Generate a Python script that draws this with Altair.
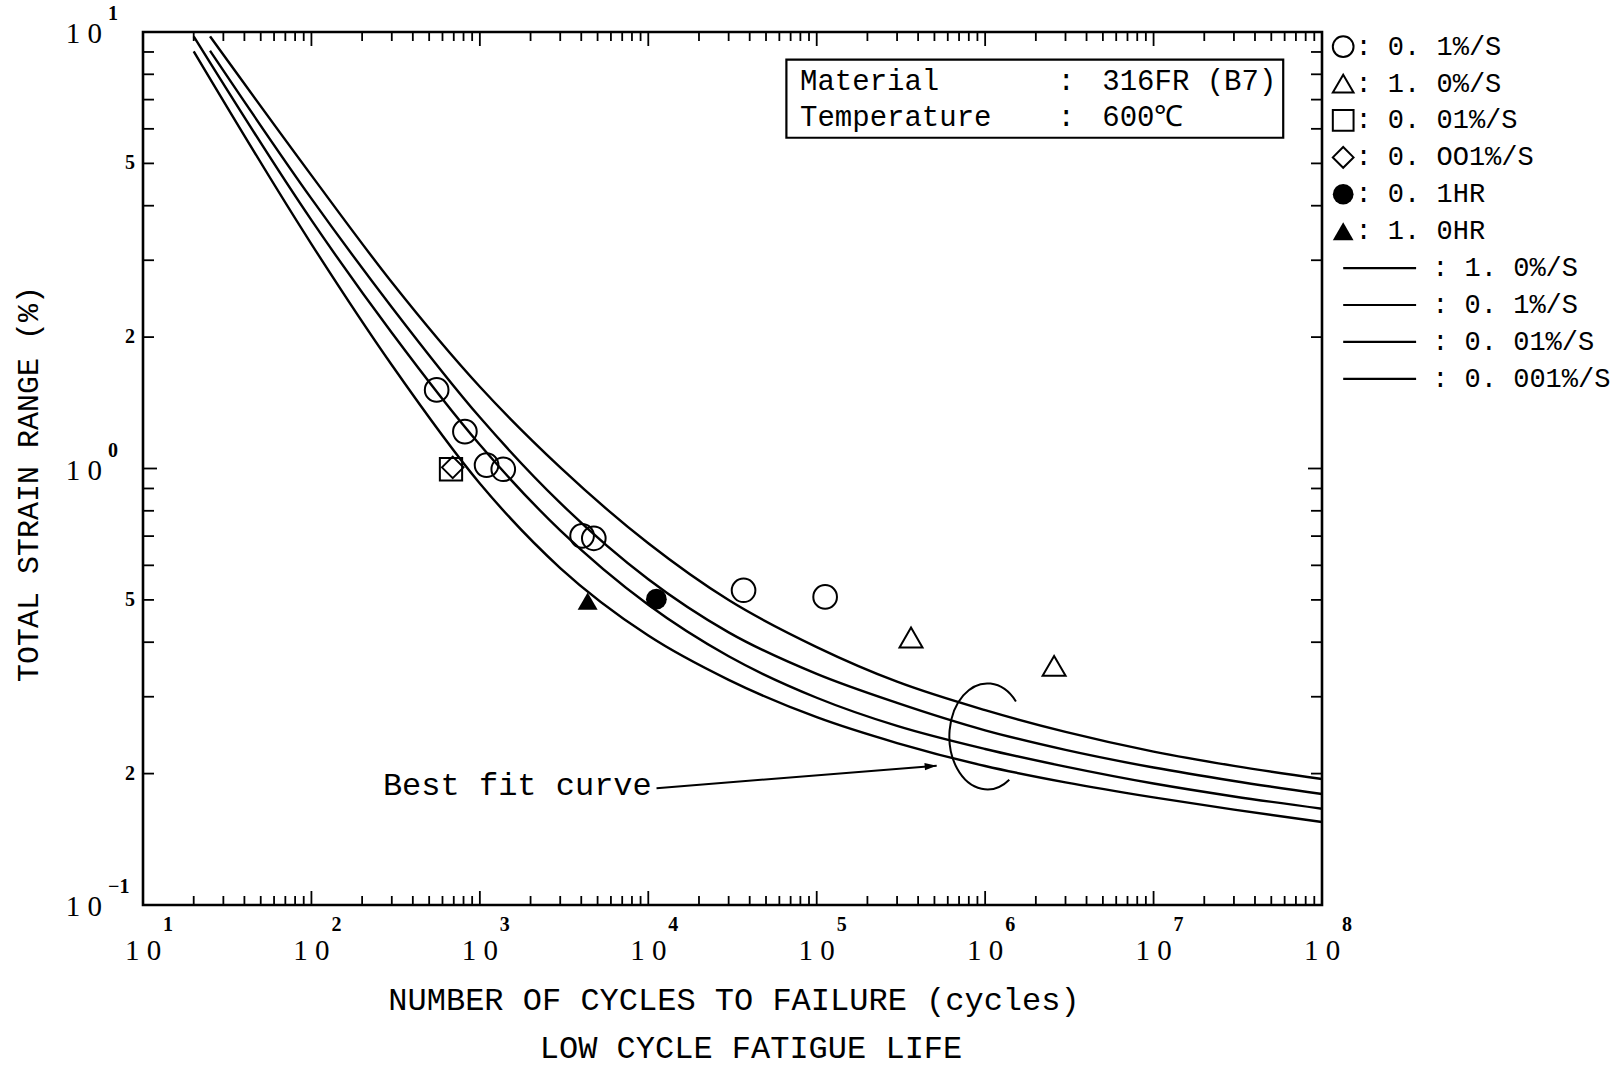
import altair as alt
import pandas as pd

W, H = 1179, 873

# ---------------- best-fit curves (cycles, total strain range %) ----------------
curve_names = ["1.0%/S", "0.1%/S", "0.01%/S", "0.001%/S"]
N_upper = [25, 100, 300, 1000, 3000, 1e4, 3e4, 1e5, 3e5, 1e6, 3e6, 1e7, 3e7, 1e8]
N_lower = [20, 100, 300, 1000, 3000, 1e4, 3e4, 1e5, 3e5, 1e6, 3e6, 1e7, 3e7, 1e8]
S_rate_1 = [9.77, 4.694, 2.671, 1.539, 1.006, 0.674, 0.4995, 0.3899, 0.3248, 0.2795, 0.2492, 0.2246, 0.2083, 0.1944]
S_rate_01 = [9.06, 4.153, 2.342, 1.310, 0.834, 0.5575, 0.4213, 0.3384, 0.2904, 0.2513, 0.2266, 0.2065, 0.1924, 0.1796]
S_rate_001 = [9.77, 3.706, 2.046, 1.133, 0.7214, 0.4872, 0.3713, 0.2984, 0.2572, 0.2277, 0.2075, 0.1898, 0.1773, 0.1662]
S_rate_0001 = [9.03, 3.267, 1.726, 0.9239, 0.5916, 0.4143, 0.328, 0.2693, 0.235, 0.2082, 0.191, 0.1764, 0.1654, 0.1549]

# ---------------- test data ----------------
circ_N = [554, 815, 1096, 1377, 4046, 4748, 36780, 112200]
circ_S = [1.514, 1.215, 1.018, 0.996, 0.701, 0.692, 0.526, 0.508]
tri_N = [363000, 2567000]
tri_S = [0.410, 0.353]
sq_N = [674]
sq_S = [0.996]
dia_N = [690]
dia_S = [1.006]
fcirc_N = [11170]
fcirc_S = [0.502]
ftri_N = [4365]
ftri_S = [0.497]

series_names = ["0.1%/S", "1.0%/S", "0.01%/S", "0.001%/S", "0.1HR", "1.0HR"]
series_shapes = ["circle", "triangle-up", "square", "diamond", "circle", "triangle-up"]
series_sizes = [560, 400, 441, 150, 380, 440]
open_series = series_names[:4]
filled_series = series_names[4:]

# ---------------- legend ----------------
legend_point_labels = [": 0. 1%/S", ": 1. 0%/S", ": 0. 01%/S", ": 0. OO1%/S", ": 0. 1HR", ": 1. 0HR"]
legend_line_labels = [": 1. 0%/S", ": 0. 1%/S", ": 0. 01%/S", ": 0. 001%/S"]
legend_row_S = [9.254, 7.616, 6.270, 5.161, 4.249, 3.497, 2.878, 2.369, 1.950, 1.605]
legend_symbol_N = 1.336e8
legend_text_N = 1.58e8
legend_line_N = [1.336e8, 3.62e8]
legend_line_text_N = 4.51e8

# ---------------- annotation box / labels ----------------
box_N = [66070, 5.885e7]
box_S = [8.64, 5.725]
box_keys = ["Material", "Temperature"]
box_values = ["316FR (B7)", "600℃"]
box_text_S = [7.73, 6.397]
box_key_N = 79600
box_colon_N = 3.033e6
box_value_N = 4.96e6

best_fit_label = "Best fit curve"
best_fit_N = 265.7
best_fit_S = 0.1886
arrow_N = [11190, 515500]
arrow_S = [0.1852, 0.2085]
ellipse_N = 1.03e6
ellipse_S = 0.2429

# ---------------- axes ----------------
x_decades = [10, 100, 1000, 1e4, 1e5, 1e6, 1e7, 1e8]
x_exponents = ["1", "2", "3", "4", "5", "6", "7", "8"]
minor_mult = [2, 3, 4, 5, 6, 7, 8, 9]
y_decades = [10, 1, 0.1]
y_exponents = ["1", "0", "−1"]
y_minor_label_vals = [5, 2, 0.5, 0.2]
y_minor_label_text = ["5", "2", "5", "2"]
x_title = "NUMBER OF CYCLES TO FAILURE (cycles)"
x_subtitle = "LOW CYCLE FATIGUE LIFE"
y_title = "TOTAL STRAIN RANGE (%)"

MONO = "Liberation Mono"
SERIF = "Liberation Serif"

xs = alt.Scale(type="log", domain=[10, 1e8], nice=False)
ys = alt.Scale(type="log", domain=[0.1, 10], nice=False)


def X(field="N"):
    return alt.X(f"{field}:Q", scale=xs, axis=None)


def Y(field="S"):
    return alt.Y(f"{field}:Q", scale=ys, axis=None)


# curves
rows = []
for name, Ns, Ss in [
    (curve_names[0], N_upper, S_rate_1),
    (curve_names[1], N_upper, S_rate_01),
    (curve_names[2], N_lower, S_rate_001),
    (curve_names[3], N_lower, S_rate_0001),
]:
    for n, s in zip(Ns, Ss):
        rows.append({"N": n, "S": s, "curve": name})
curves_df = pd.DataFrame(rows)

curves = alt.Chart(curves_df).mark_line(
    color="black", strokeWidth=2.4, interpolate="monotone"
).encode(x=X(), y=Y(), detail="curve:N", order="N:Q")

pts_rows = []
for nm, Ns, Ss in [
    (series_names[0], circ_N, circ_S),
    (series_names[1], tri_N, tri_S),
    (series_names[2], sq_N, sq_S),
    (series_names[3], dia_N, dia_S),
    (series_names[4], fcirc_N, fcirc_S),
    (series_names[5], ftri_N, ftri_S),
]:
    for n, s in zip(Ns, Ss):
        pts_rows.append({"N": n, "S": s, "series": nm})
pts_df = pd.DataFrame(pts_rows)

shape_enc = alt.Shape("series:N", scale=alt.Scale(domain=series_names, range=series_shapes), legend=None)
size_enc = alt.Size("series:N", scale=alt.Scale(domain=series_names, range=series_sizes), legend=None)

open_pts = alt.Chart(pts_df).transform_filter(
    alt.FieldOneOfPredicate(field="series", oneOf=open_series)
).mark_point(filled=False, color="black", strokeWidth=2, opacity=1).encode(
    x=X(), y=Y(), shape=shape_enc, size=size_enc)

filled_pts = alt.Chart(pts_df).transform_filter(
    alt.FieldOneOfPredicate(field="series", oneOf=filled_series)
).mark_point(filled=True, color="black", opacity=1).encode(
    x=X(), y=Y(), shape=shape_enc, size=size_enc)

# legend (points)
leg_pts_df = pd.DataFrame({
    "N": [legend_symbol_N] * 6,
    "S": legend_row_S[:6],
    "series": series_names,
    "label": legend_point_labels,
    "NT": [legend_text_N] * 6,
})
leg_open = alt.Chart(leg_pts_df).transform_filter(
    alt.FieldOneOfPredicate(field="series", oneOf=open_series)
).mark_point(filled=False, color="black", strokeWidth=2, opacity=1, size=430).encode(
    x=X(), y=Y(), shape=shape_enc)
leg_filled = alt.Chart(leg_pts_df).transform_filter(
    alt.FieldOneOfPredicate(field="series", oneOf=filled_series)
).mark_point(filled=True, color="black", opacity=1, size=430).encode(
    x=X(), y=Y(), shape=shape_enc)
leg_pts_text = alt.Chart(leg_pts_df).mark_text(
    align="left", baseline="middle", font=MONO, fontSize=27, color="black"
).encode(x=X("NT"), y=Y(), text="label:N")

# legend (lines)
leg_line_df = pd.DataFrame({
    "N1": [legend_line_N[0]] * 4,
    "N2": [legend_line_N[1]] * 4,
    "NT": [legend_line_text_N] * 4,
    "S": legend_row_S[6:],
    "label": legend_line_labels,
})
leg_lines = alt.Chart(leg_line_df).mark_rule(color="black", strokeWidth=2.2).encode(
    x=X("N1"), x2="N2:Q", y=Y())
leg_line_text = alt.Chart(leg_line_df).mark_text(
    align="left", baseline="middle", font=MONO, fontSize=27, color="black"
).encode(x=X("NT"), y=Y(), text="label:N")

# material box
box_df = pd.DataFrame({"N1": [box_N[0]], "N2": [box_N[1]], "S1": [box_S[0]], "S2": [box_S[1]]})
box = alt.Chart(box_df).mark_rect(fillOpacity=0, stroke="black", strokeWidth=2.2).encode(
    x=X("N1"), x2="N2:Q", y=Y("S1"), y2="S2:Q")
box_txt_df = pd.DataFrame({
    "NK": [box_key_N] * 2, "NC": [box_colon_N] * 2, "NV": [box_value_N] * 2,
    "S": box_text_S, "k": box_keys, "c": [":", ":"], "v": box_values,
})
box_key = alt.Chart(box_txt_df).mark_text(
    align="left", baseline="middle", font=MONO, fontSize=29, color="black"
).encode(x=X("NK"), y=Y(), text="k:N")
box_colon = alt.Chart(box_txt_df).mark_text(
    align="center", baseline="middle", font=MONO, fontSize=29, color="black"
).encode(x=X("NC"), y=Y(), text="c:N")
box_val = alt.Chart(box_txt_df).mark_text(
    align="left", baseline="middle", font=MONO, fontSize=29, color="black"
).encode(x=X("NV"), y=Y(), text="v:N")

# best fit annotation
bf_df = pd.DataFrame({"N": [best_fit_N], "S": [best_fit_S], "t": [best_fit_label]})
bf_txt = alt.Chart(bf_df).mark_text(
    align="left", baseline="middle", font=MONO, fontSize=32, color="black"
).encode(x=X(), y=Y(), text="t:N")
arrow_df = pd.DataFrame({"N1": [arrow_N[0]], "N2": [arrow_N[1]], "S1": [arrow_S[0]], "S2": [arrow_S[1]]})
arrow = alt.Chart(arrow_df).mark_rule(color="black", strokeWidth=2).encode(
    x=X("N1"), x2="N2:Q", y=Y("S1"), y2="S2:Q")
head_df = pd.DataFrame({"N": [arrow_N[1]], "S": [arrow_S[1]]})
head = alt.Chart(head_df).mark_point(
    shape="M 0 0 L -2 -0.6 L -2 0.6 Z", filled=True, color="black", opacity=1, size=144, angle=355.4
).encode(x=X(), y=Y())
ell_df = pd.DataFrame({"N": [ellipse_N], "S": [ellipse_S]})
ellipse = alt.Chart(ell_df).mark_point(
    shape="M 0.54 -0.666 A 0.717 1 0 1 0 0.415 0.81", filled=False, color="black",
    strokeWidth=2, opacity=1, size=11236
).encode(x=X(), y=Y())

# ticks (inward)
x_minor = [m * d for d in x_decades[:-1] for m in minor_mult]
x_major = x_decades[1:-1]
y_minor = [m * d for d in [0.1, 1] for m in minor_mult]
y_major = [1]


def xticks(vals, y0, y1):
    return alt.Chart(pd.DataFrame({"N": vals})).mark_rule(color="black", strokeWidth=1.8).encode(
        x=X(), y=alt.value(y0), y2=alt.value(y1))


def yticks(vals, x0, x1):
    return alt.Chart(pd.DataFrame({"S": vals})).mark_rule(color="black", strokeWidth=1.8).encode(
        y=Y(), x=alt.value(x0), x2=alt.value(x1))


ticks = [
    xticks(x_minor, H, H - 9), xticks(x_major, H, H - 14),
    xticks(x_minor, 0, 9), xticks(x_major, 0, 14),
    yticks(y_minor, 0, 11), yticks(y_major, 0, 14),
    yticks(y_minor, W, W - 11), yticks(y_major, W, W - 14),
]

# tick labels
xlab_df = pd.DataFrame({"N": x_decades, "base": ["1 0"] * 8, "exp": x_exponents})
xlab = alt.Chart(xlab_df).mark_text(
    align="center", baseline="middle", font=SERIF, fontSize=29, color="black"
).encode(x=X(), y=alt.value(H + 46), text="base:N")
xexp = alt.Chart(xlab_df).mark_text(
    align="center", baseline="middle", font=SERIF, fontSize=20, fontWeight="bold", color="black", dx=25
).encode(x=X(), y=alt.value(H + 20), text="exp:N")

ylab_df = pd.DataFrame({"S": y_decades, "base": ["1 0"] * 3, "exp": y_exponents})
ylab = alt.Chart(ylab_df).mark_text(
    align="right", baseline="middle", font=SERIF, fontSize=29, color="black", dy=2
).encode(y=Y(), x=alt.value(-41), text="base:N")
yexp = alt.Chart(ylab_df).mark_text(
    align="left", baseline="middle", font=SERIF, fontSize=20, fontWeight="bold", color="black", dy=-18
).encode(y=Y(), x=alt.value(-35), text="exp:N")
ymin_df = pd.DataFrame({"S": y_minor_label_vals, "t": y_minor_label_text})
ymin = alt.Chart(ymin_df).mark_text(
    align="right", baseline="middle", font=SERIF, fontSize=20, fontWeight="bold", color="black"
).encode(y=Y(), x=alt.value(-8), text="t:N")

# axis titles
xt = alt.Chart(pd.DataFrame({"t": [x_title]})).mark_text(
    align="center", baseline="middle", font=MONO, fontSize=32, color="black"
).encode(x=alt.value(591), y=alt.value(H + 95), text="t:N")
xst = alt.Chart(pd.DataFrame({"t": [x_subtitle]})).mark_text(
    align="center", baseline="middle", font=MONO, fontSize=32, color="black"
).encode(x=alt.value(608), y=alt.value(H + 143), text="t:N")
yt = alt.Chart(pd.DataFrame({"t": [y_title]})).mark_text(
    align="center", baseline="middle", font=MONO, fontSize=30, color="black", angle=270
).encode(x=alt.value(-114), y=alt.value(452), text="t:N")

chart = alt.layer(
    *ticks, curves, open_pts, filled_pts,
    leg_open, leg_filled, leg_pts_text, leg_lines, leg_line_text,
    box, box_key, box_colon, box_val, bf_txt, arrow, head, ellipse,
    xlab, xexp, ylab, yexp, ymin, xt, xst, yt,
).properties(
    width=W, height=H,
    padding={"left": 143, "top": 32, "right": 302, "bottom": 164},
    autosize=alt.AutoSizeParams(type="none"),
    background="white",
).configure_view(stroke="black", strokeWidth=2.6)

chart.save("out.html", embed_options={"renderer": "svg", "actions": False})
